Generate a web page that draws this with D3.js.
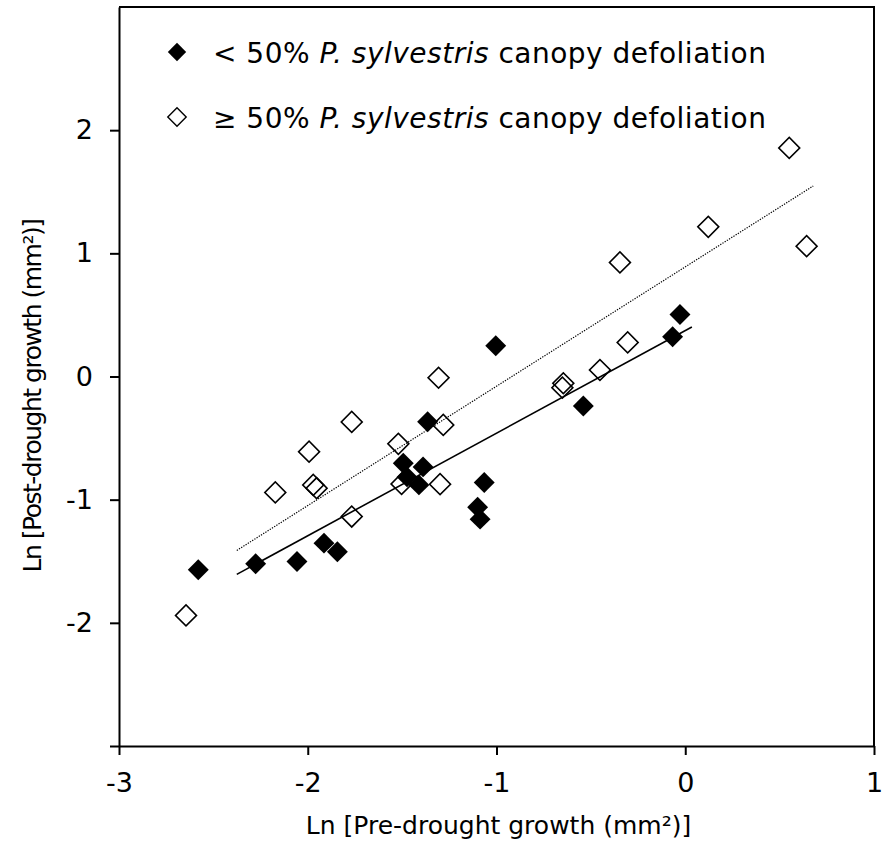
<!DOCTYPE html>
<html>
<head>
<meta charset="utf-8">
<script src="https://cdnjs.cloudflare.com/ajax/libs/d3/7.8.5/d3.min.js"></script>
<style>
  body { margin: 0; background: #fff; }
  text { font-family: "DejaVu Sans", Verdana, sans-serif; fill: #000; }
</style>
</head>
<body>
<div id="chart"></div>
<script>
// trees with < 50% canopy defoliation (ln pre-drought, ln post-drought growth)
const lowX = [-2.580, -2.276, -2.057, -1.914, -1.843, -1.494, -1.389, -1.474, -1.411, -1.365,
              -1.004, -1.065, -1.100, -1.087, -0.540, -0.067, -0.028];
const lowY = [-1.569, -1.521, -1.502, -1.353, -1.423, -0.704, -0.734, -0.815, -0.880, -0.367,
               0.250, -0.860, -1.061, -1.158, -0.239, 0.323, 0.504];

// trees with >= 50% canopy defoliation
const highX = [-2.645, -2.172, -1.971, -1.953, -1.767, -1.993, -1.767, -1.520, -1.503, -1.307,
               -1.282, -1.299, -0.646, -0.651, -0.452, -0.305, -0.346, 0.122, 0.551, 0.643];
const highY = [-1.940, -0.941, -0.880, -0.907, -1.137, -0.610, -0.369, -0.547, -0.872, -0.010,
               -0.393, -0.874, -0.055, -0.091, 0.053, 0.277, 0.926, 1.215, 1.856, 1.058];

// linear fits: [slope, intercept] and the x span they are drawn over
const lowFit = [0.833, 0.373];
const lowFitSpan = [-2.376, 0.035];
const highFit = [0.969, 0.890];
const highFitSpan = [-2.376, 0.678];

const xTicks = [-3, -2, -1, 0, 1];
const yTicks = [-3, -2, -1, 0, 1, 2];

const width = 885, height = 866;
const margin = { top: 7, right: 11, bottom: 120, left: 119 };

const svg = d3.select("#chart").append("svg")
    .attr("width", width).attr("height", height);

const x = d3.scaleLinear().domain([-3, 1]).range([margin.left, width - margin.right]);
const y = d3.scaleLinear().domain([-3, 3]).range([height - margin.bottom, margin.top]);

// frame (top and right)
svg.append("path")
    .attr("d", "M" + x(-3) + "," + y(3) + "H" + x(1) + "V" + y(-3))
    .attr("fill", "none").attr("stroke", "#000").attr("stroke-width", 2);

// axes
const gx = svg.append("g")
    .attr("transform", "translate(0," + y(-3) + ")")
    .call(d3.axisBottom(x).tickValues(xTicks).tickSize(9).tickSizeOuter(0).tickPadding(18)
        .tickFormat(d => String(d)));
const gy = svg.append("g")
    .attr("transform", "translate(" + x(-3) + ",0)")
    .call(d3.axisLeft(y).tickValues(yTicks).tickSize(9).tickSizeOuter(0).tickPadding(17)
        .tickFormat(d => d === -3 ? "" : String(d)));
[gx, gy].forEach(g => {
  g.selectAll("path, line").attr("stroke", "#000").attr("stroke-width", 2);
  g.selectAll("text").attr("font-size", 27).attr("font-family", null);
});

// points
const diamond = d3.symbol().type(d3.symbolSquare).size(14.8 * 14.8);

svg.append("g").selectAll("path")
    .data(d3.zip(highX, highY))
    .enter().append("path")
    .attr("d", diamond)
    .attr("transform", d => "translate(" + x(d[0]) + "," + y(d[1]) + ") rotate(45)")
    .attr("fill", "none").attr("stroke", "#000").attr("stroke-width", 1.6);

svg.append("g").selectAll("path")
    .data(d3.zip(lowX, lowY))
    .enter().append("path")
    .attr("d", diamond)
    .attr("transform", d => "translate(" + x(d[0]) + "," + y(d[1]) + ") rotate(45)")
    .attr("fill", "#000");

// fitted lines
const fitLine = d3.line().x(d => x(d[0])).y(d => y(d[1]));
function fitPoints(fit, span) {
  return span.map(v => [v, fit[0] * v + fit[1]]);
}
svg.append("path")
    .datum(fitPoints(lowFit, lowFitSpan))
    .attr("d", fitLine)
    .attr("fill", "none").attr("stroke", "#000").attr("stroke-width", 1.6);
svg.append("path")
    .datum(fitPoints(highFit, highFitSpan))
    .attr("d", fitLine)
    .attr("fill", "none").attr("stroke", "#000").attr("stroke-width", 1.2)
    .attr("stroke-dasharray", "1.3,1.3");

// legend
const legendSymbol = d3.symbol().type(d3.symbolSquare).size(13 * 13);
const legend = svg.append("g");
const rows = [
  { y: 52, filled: true, prefix: "< 50% " },
  { y: 117, filled: false, prefix: "\u2265 50% " }
];
rows.forEach(r => {
  legend.append("path")
      .attr("d", legendSymbol)
      .attr("transform", "translate(177," + r.y + ") rotate(45)")
      .attr("fill", r.filled ? "#000" : "none")
      .attr("stroke", r.filled ? "none" : "#000")
      .attr("stroke-width", 1.4);
  const t = legend.append("text")
      .attr("x", 213).attr("y", r.y + 10.5)
      .attr("font-size", 28).attr("letter-spacing", 0.5);
  t.append("tspan").text(r.prefix);
  t.append("tspan").attr("font-style", "italic").text("P. sylvestris");
  t.append("tspan").text(" canopy defoliation");
});

// axis titles
svg.append("text")
    .attr("x", (x(-3) + x(1)) / 2 + 2).attr("y", 834)
    .attr("text-anchor", "middle").attr("font-size", 25)
    .text("Ln [Pre-drought growth (mm\u00b2)]");
svg.append("text")
    .attr("transform", "translate(41,396) rotate(-90)")
    .attr("text-anchor", "middle").attr("font-size", 25).attr("letter-spacing", -1.5)
    .text("Ln [Post-drought growth (mm\u00b2)]");
</script>
</body>
</html>
